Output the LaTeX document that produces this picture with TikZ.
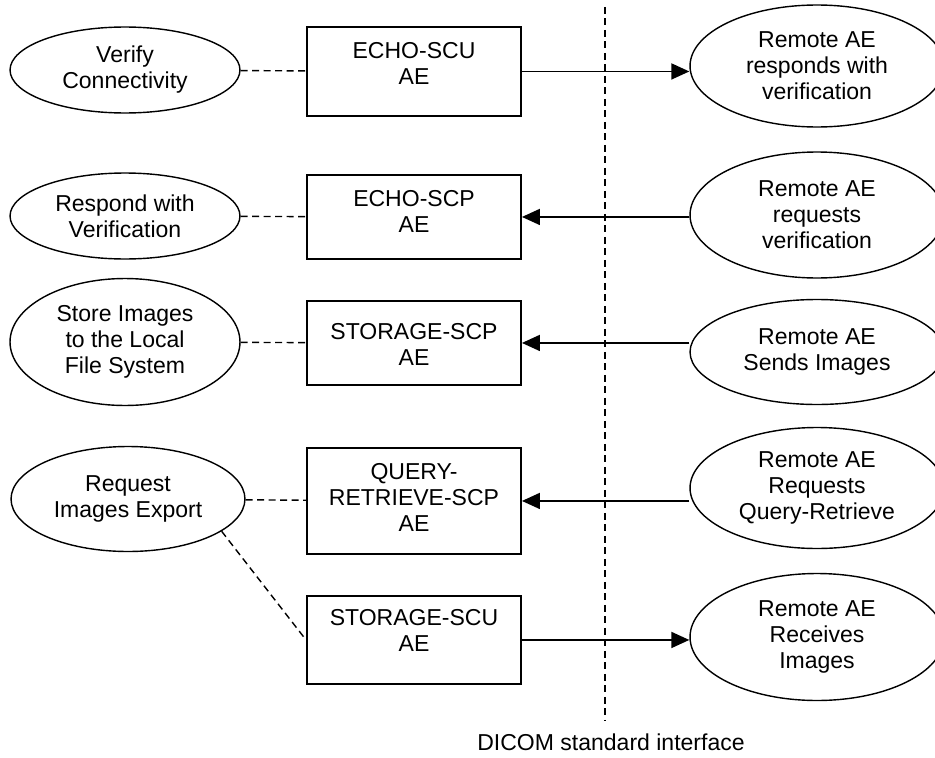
\documentclass[tikz,border=0pt]{standalone}
\usepackage{fontspec}
\setmainfont{Liberation Sans}
\usetikzlibrary{shapes.geometric,arrows.meta}

\begin{document}
\begin{tikzpicture}[x=0.02cm,y=-0.02cm,font=\fontsize{13.1}{14.8}\selectfont]
    \tikzstyle{task}=[ellipse,draw,line width=0.8pt,inner sep=0pt,align=center,minimum width=4.6cm]
    \tikzstyle{remote}=[task,minimum width=5.08cm]
    \tikzstyle{ae}=[draw,line width=1.1pt,align=center,anchor=north,minimum width=4.28cm,inner sep=0pt]
    \tikzstyle{link}=[dash pattern=on 0.14cm off 0.09cm,line width=0.8pt]
    \tikzstyle{msg}=[-{Triangle[length=0.36cm,width=0.32cm]},line width=1pt]

    \useasboundingbox (0,0) rectangle (935,757);

    % local tasks
    \node[task,minimum height=1.72cm] (verify) at (125,70) {Verify\\Connectivity};
    \node[task,minimum height=1.72cm] (respond) at (125,216) {Respond with\\Verification};
    \node[task,minimum height=2.54cm] (store) at (125,342) {Store Images\\to the Local\\File System};
    \node[task,minimum width=4.68cm,minimum height=2.1cm] (export) at (128,499) {Request\\Images Export};

    % application entities (text height/depth put the text near the top)
    \node[ae,text height=1.16cm,text depth=0.62cm] (echoscu) at (414,26) {ECHO-SCU\\AE};
    \node[ae,text height=1.16cm,text depth=0.52cm] (echoscp) at (414,174) {ECHO-SCP\\AE};
    \node[ae,text height=1.3cm,text depth=0.38cm] (storescp) at (414,300) {STORAGE-SCP\\AE};
    \node[ae,text height=1.67cm,text depth=0.45cm] (qrscp) at (414,447) {QUERY-\\RETRIEVE-SCP\\AE};
    \node[ae,text height=1.11cm,text depth=0.65cm] (storescu) at (414,595) {STORAGE-SCU\\AE};

    % remote side
    \node[remote,minimum height=2.44cm] (rverify) at (817,66) {Remote AE\\responds with\\verification};
    \node[remote,minimum height=2.52cm] (rrequest) at (817,215) {Remote AE\\requests\\verification};
    \node[remote,minimum height=2.1cm] (rsend) at (817,352) {Remote AE\\Sends Images};
    \node[remote,minimum height=2.42cm] (rquery) at (817,488) {Remote AE\\Requests\\Query-Retrieve};
    \node[remote,minimum height=2.54cm] (rreceive) at (817,637) {Remote AE\\Receives\\Images};

    % dashed links to the AEs
    \draw[link] (verify) -- (echoscu);
    \draw[link] (respond) -- (echoscp);
    \draw[link] (store) -- (storescp);
    \draw[link] (export) -- (qrscp);
    \draw[link] (export.-19) -- (storescu.west);

    % messages over the interface
    \draw[msg] (echoscu.east) -- (echoscu.east -| rverify.west);
    \draw[msg] (rrequest.west |- echoscp.east) -- (echoscp.east);
    \draw[msg] (rsend.west |- storescp.east) -- (storescp.east);
    \draw[msg] (rquery.west |- qrscp.east) -- (qrscp.east);
    \draw[msg] (storescu.east) -- (storescu.east -| rreceive.west);

    % interface boundary
    \coordinate (ifacetop) at (605,7);
    \coordinate (ifacebot) at (605,720);
    \draw[link] (ifacetop) -- (ifacebot);
    \node (iface) at (611,742) {DICOM standard interface};
\end{tikzpicture}
\end{document}
